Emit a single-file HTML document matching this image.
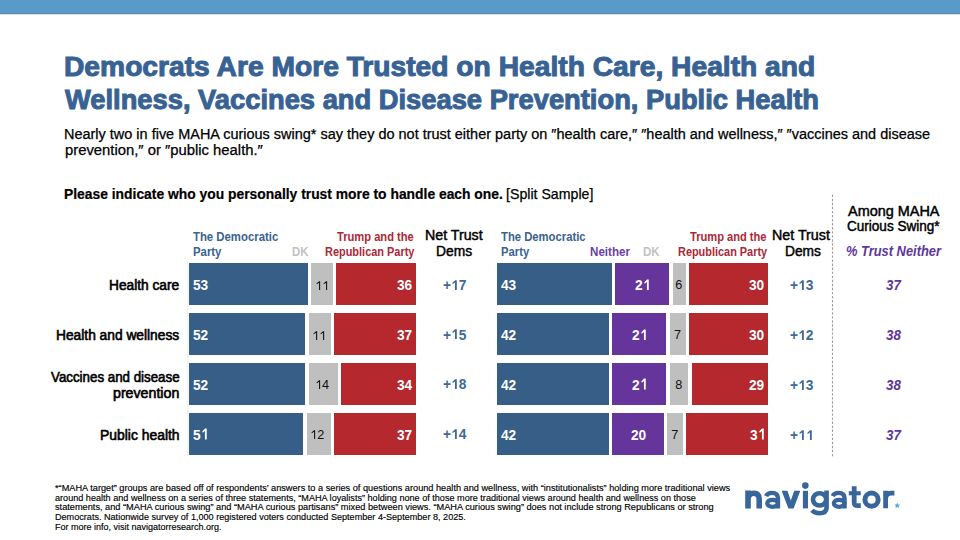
<!DOCTYPE html>
<html><head><meta charset="utf-8"><title>Navigator</title>
<style>
html,body{margin:0;padding:0;background:#fff}
#p{position:relative;width:960px;height:540px;overflow:hidden;background:#fff;font-family:"Liberation Sans",sans-serif}
.t{position:absolute;white-space:nowrap;transform-origin:0 0}
.b{position:absolute}
#top{position:absolute;left:0;top:0;width:960px;height:15px;background:linear-gradient(to bottom,#5a9ac8 0,#5a9ac8 13px,#6088ad 13px,#6088ad 14px,#d5e2ec 14px,#d5e2ec 15px)}
#dash{position:absolute;left:832px;top:194.7px;width:1px;height:263px;background:repeating-linear-gradient(to bottom,#9a9a9a 0,#9a9a9a 2.4px,transparent 2.4px,transparent 4.1px)}
</style></head><body><div id="p">
<div id="top"></div>
<svg style="position:absolute;left:0;top:0" width="960" height="540"><line x1="832.5" y1="194.7" x2="832.5" y2="457.9" stroke="#9c9c9c" stroke-width="1.1" stroke-dasharray="2.4 1.65"/></svg>
<div style="position:absolute;left:187px;top:262px;width:1px;height:194px;background:#eef2f7"></div>
<div class="b" style="left:189.00px;top:263.40px;width:118.61px;height:42.00px;background:#365e87"></div><div class="b" style="left:311.11px;top:263.40px;width:21.84px;height:42.00px;background:#bfbfbf"></div><div class="b" style="left:336.46px;top:263.40px;width:79.44px;height:42.00px;background:#b4282e"></div><div class="b" style="left:189.00px;top:313.30px;width:116.31px;height:42.00px;background:#365e87"></div><div class="b" style="left:308.81px;top:313.30px;width:21.84px;height:42.00px;background:#bfbfbf"></div><div class="b" style="left:334.15px;top:313.30px;width:81.75px;height:42.00px;background:#b4282e"></div><div class="b" style="left:189.00px;top:363.20px;width:116.31px;height:42.00px;background:#365e87"></div><div class="b" style="left:308.81px;top:363.20px;width:28.76px;height:42.00px;background:#bfbfbf"></div><div class="b" style="left:341.06px;top:363.20px;width:74.84px;height:42.00px;background:#b4282e"></div><div class="b" style="left:189.00px;top:413.10px;width:114.00px;height:42.00px;background:#365e87"></div><div class="b" style="left:306.50px;top:413.10px;width:24.15px;height:42.00px;background:#bfbfbf"></div><div class="b" style="left:334.15px;top:413.10px;width:81.75px;height:42.00px;background:#b4282e"></div><div class="b" style="left:497.40px;top:263.40px;width:114.28px;height:42.00px;background:#365e87"></div><div class="b" style="left:615.18px;top:263.40px;width:54.02px;height:42.00px;background:#65359b"></div><div class="b" style="left:672.70px;top:263.40px;width:12.93px;height:42.00px;background:#bfbfbf"></div><div class="b" style="left:689.13px;top:263.40px;width:78.67px;height:42.00px;background:#b4282e"></div><div class="b" style="left:497.40px;top:313.30px;width:111.54px;height:42.00px;background:#365e87"></div><div class="b" style="left:612.44px;top:313.30px;width:54.02px;height:42.00px;background:#65359b"></div><div class="b" style="left:669.96px;top:313.30px;width:15.67px;height:42.00px;background:#bfbfbf"></div><div class="b" style="left:689.13px;top:313.30px;width:78.67px;height:42.00px;background:#b4282e"></div><div class="b" style="left:497.40px;top:363.20px;width:111.54px;height:42.00px;background:#365e87"></div><div class="b" style="left:612.44px;top:363.20px;width:54.02px;height:42.00px;background:#65359b"></div><div class="b" style="left:669.96px;top:363.20px;width:18.41px;height:42.00px;background:#bfbfbf"></div><div class="b" style="left:691.87px;top:363.20px;width:75.93px;height:42.00px;background:#b4282e"></div><div class="b" style="left:497.40px;top:413.10px;width:111.54px;height:42.00px;background:#365e87"></div><div class="b" style="left:612.44px;top:413.10px;width:51.28px;height:42.00px;background:#65359b"></div><div class="b" style="left:667.22px;top:413.10px;width:15.67px;height:42.00px;background:#bfbfbf"></div><div class="b" style="left:686.39px;top:413.10px;width:81.41px;height:42.00px;background:#b4282e"></div>
<div class="t" style="left:64.36px;top:51.30px;font-size:27px;line-height:32.40px;color:#386294;font-weight:700;-webkit-text-stroke:1.0px #386294;transform:scaleX(1.0446);">Democrats Are More Trusted on Health Care, Health and</div>
<div class="t" style="left:65.21px;top:84.40px;font-size:27px;line-height:32.40px;color:#386294;font-weight:700;-webkit-text-stroke:1.0px #386294;transform:scaleX(1.0117);">Wellness, Vaccines and Disease Prevention, Public Health</div>
<div class="t" style="left:63.72px;top:125.70px;font-size:14px;line-height:16.80px;color:#000;-webkit-text-stroke:0.25px #000;transform:scaleX(1.0335);">Nearly two in five MAHA curious swing* say they do not trust either party on ″health care,″ ″health and wellness,″ ″vaccines and disease</div>
<div class="t" style="left:64.75px;top:142.00px;font-size:14px;line-height:16.80px;color:#000;-webkit-text-stroke:0.25px #000;transform:scaleX(1.0588);">prevention,″ or ″public health.″</div>
<div class="t" style="left:64.40px;top:185.75px;font-size:13.9px;line-height:16.68px;color:#000;font-weight:700;-webkit-text-stroke:0.2px #000;transform:scaleX(0.9974);">Please indicate who you personally trust more to handle each one.</div>
<div class="t" style="left:506.23px;top:185.75px;font-size:13.9px;line-height:16.68px;color:#000;-webkit-text-stroke:0.25px #000;transform:scaleX(1.0196);">[Split Sample]</div>
<div class="t" style="left:192.50px;top:229.80px;font-size:11.9px;line-height:14.28px;color:#3a628f;font-weight:700;transform:scaleX(0.9551);">The Democratic</div>
<div class="t" style="left:192.50px;top:244.70px;font-size:11.9px;line-height:14.28px;color:#3a628f;font-weight:700;transform:scaleX(0.9551);">Party</div>
<div class="t" style="left:291.70px;top:244.50px;font-size:11.9px;line-height:14.28px;color:#c2c2c2;font-weight:700;transform:scaleX(0.9588);">DK</div>
<div class="t" style="left:336.90px;top:230.20px;font-size:11.9px;line-height:14.28px;color:#ab2937;font-weight:700;transform:scaleX(0.9378);">Trump and the</div>
<div class="t" style="left:324.50px;top:244.80px;font-size:11.9px;line-height:14.28px;color:#ab2937;font-weight:700;transform:scaleX(0.9206);">Republican Party</div>
<div class="t" style="left:425.19px;top:226.50px;font-size:14px;line-height:16.80px;color:#000;-webkit-text-stroke:0.45px #000;transform:scaleX(1.0143);">Net Trust</div>
<div class="t" style="left:435.61px;top:242.80px;font-size:14px;line-height:16.80px;color:#000;-webkit-text-stroke:0.45px #000;transform:scaleX(0.9861);">Dems</div>
<div class="t" style="left:500.90px;top:230.00px;font-size:11.9px;line-height:14.28px;color:#3a628f;font-weight:700;transform:scaleX(0.9483);">The Democratic</div>
<div class="t" style="left:500.90px;top:244.70px;font-size:11.9px;line-height:14.28px;color:#3a628f;font-weight:700;transform:scaleX(0.9483);">Party</div>
<div class="t" style="left:589.80px;top:244.80px;font-size:11.9px;line-height:14.28px;color:#6a3fa6;font-weight:700;transform:scaleX(0.9756);">Neither</div>
<div class="t" style="left:642.90px;top:244.80px;font-size:11.9px;line-height:14.28px;color:#c2c2c2;font-weight:700;transform:scaleX(0.9706);">DK</div>
<div class="t" style="left:690.40px;top:230.10px;font-size:11.9px;line-height:14.28px;color:#ab2937;font-weight:700;transform:scaleX(0.9341);">Trump and the</div>
<div class="t" style="left:678.00px;top:244.60px;font-size:11.9px;line-height:14.28px;color:#ab2937;font-weight:700;transform:scaleX(0.9175);">Republican Party</div>
<div class="t" style="left:771.68px;top:227.00px;font-size:14px;line-height:16.80px;color:#000;-webkit-text-stroke:0.45px #000;transform:scaleX(1.0196);">Net Trust</div>
<div class="t" style="left:784.92px;top:243.00px;font-size:14px;line-height:16.80px;color:#000;-webkit-text-stroke:0.45px #000;transform:scaleX(0.9833);">Dems</div>
<div class="t" style="left:847.50px;top:202.60px;font-size:14px;line-height:16.80px;color:#000;-webkit-text-stroke:0.45px #000;transform:scaleX(1.0315);">Among MAHA</div>
<div class="t" style="left:847.00px;top:217.90px;font-size:14px;line-height:16.80px;color:#000;-webkit-text-stroke:0.45px #000;transform:scaleX(0.9677);">Curious Swing*</div>
<div class="t" style="left:845.69px;top:243.40px;font-size:14.2px;line-height:17.04px;color:#5f369b;font-weight:700;font-style:italic;transform:scaleX(0.9087);">% Trust Neither</div>
<div class="t" style="left:108.52px;top:276.50px;font-size:14px;line-height:16.80px;color:#000;-webkit-text-stroke:0.6px #000;transform:scaleX(0.9803);">Health care</div>
<div class="t" style="left:56.22px;top:326.50px;font-size:14px;line-height:16.80px;color:#000;-webkit-text-stroke:0.6px #000;transform:scaleX(0.9831);">Health and wellness</div>
<div class="t" style="left:50.80px;top:368.70px;font-size:14px;line-height:16.80px;color:#000;-webkit-text-stroke:0.6px #000;transform:scaleX(0.9511);">Vaccines and disease</div>
<div class="t" style="left:113.30px;top:385.00px;font-size:14px;line-height:16.80px;color:#000;-webkit-text-stroke:0.6px #000;transform:scaleX(1.0138);">prevention</div>
<div class="t" style="left:99.81px;top:427.30px;font-size:14px;line-height:16.80px;color:#000;-webkit-text-stroke:0.6px #000;transform:scaleX(0.9924);">Public health</div>
<div class="t" style="left:54.90px;top:483.00px;font-size:9px;line-height:10.80px;color:#000;-webkit-text-stroke:0.15px #000;transform:scaleX(1.0209);">*“MAHA target” groups are based off of respondents’ answers to a series of questions around health and wellness, with “institutionalists” holding more traditional views</div>
<div class="t" style="left:54.60px;top:492.90px;font-size:9px;line-height:10.80px;color:#000;-webkit-text-stroke:0.15px #000;transform:scaleX(1.0109);">around health and wellness on a series of three statements, “MAHA loyalists” holding none of those more traditional views around health and wellness on those</div>
<div class="t" style="left:54.60px;top:501.90px;font-size:9px;line-height:10.80px;color:#000;-webkit-text-stroke:0.15px #000;transform:scaleX(1.0224);">statements, and “MAHA curious swing” and “MAHA curious partisans” mixed between views. “MAHA curious swing” does not include strong Republicans or strong</div>
<div class="t" style="left:54.90px;top:512.00px;font-size:9px;line-height:10.80px;color:#000;-webkit-text-stroke:0.15px #000;transform:scaleX(1.0101);">Democrats. Nationwide survey of 1,000 registered voters conducted September 4-September 8, 2025.</div>
<div class="t" style="left:54.90px;top:522.00px;font-size:9px;line-height:10.80px;color:#000;-webkit-text-stroke:0.15px #000;">For more info, visit navigatorresearch.org.</div>
<div class="t" style="left:193.00px;top:276.00px;font-size:15.5px;line-height:18.60px;color:#fff;font-weight:700;transform:scaleX(0.8824);">53</div>
<div class="t" style="left:314.73px;top:278.84px;font-size:12.7px;line-height:15.24px;color:#111;"><svg viewBox="0 -800 556 800" style="width:0.556em;height:0.8em;vertical-align:baseline;fill:currentColor"><path d="M405,0H320V-585L145,-462L112,-520L325,-710H405Z"/></svg><svg viewBox="0 -800 556 800" style="width:0.556em;height:0.8em;vertical-align:baseline;fill:currentColor"><path d="M405,0H320V-585L145,-462L112,-520L325,-710H405Z"/></svg></div>
<div class="t" style="left:396.90px;top:276.00px;font-size:15.5px;line-height:18.60px;color:#fff;font-weight:700;transform:scaleX(0.8824);">36</div>
<div class="t" style="left:443.05px;top:277.60px;font-size:13.8px;line-height:16.56px;color:#3e6a97;font-weight:700;transform:scaleX(0.9957);">+<svg viewBox="0 -800 556 800" style="width:0.556em;height:0.8em;vertical-align:baseline;fill:currentColor"><path d="M425,0H292V-540L138,-432L92,-515L300,-710H425Z"/></svg>7</div>
<div class="t" style="left:193.00px;top:325.90px;font-size:15.5px;line-height:18.60px;color:#fff;font-weight:700;transform:scaleX(0.8824);">52</div>
<div class="t" style="left:312.43px;top:328.74px;font-size:12.7px;line-height:15.24px;color:#111;"><svg viewBox="0 -800 556 800" style="width:0.556em;height:0.8em;vertical-align:baseline;fill:currentColor"><path d="M405,0H320V-585L145,-462L112,-520L325,-710H405Z"/></svg><svg viewBox="0 -800 556 800" style="width:0.556em;height:0.8em;vertical-align:baseline;fill:currentColor"><path d="M405,0H320V-585L145,-462L112,-520L325,-710H405Z"/></svg></div>
<div class="t" style="left:396.90px;top:325.90px;font-size:15.5px;line-height:18.60px;color:#fff;font-weight:700;transform:scaleX(0.8824);">37</div>
<div class="t" style="left:443.05px;top:327.50px;font-size:13.8px;line-height:16.56px;color:#3e6a97;font-weight:700;transform:scaleX(0.9957);">+<svg viewBox="0 -800 556 800" style="width:0.556em;height:0.8em;vertical-align:baseline;fill:currentColor"><path d="M425,0H292V-540L138,-432L92,-515L300,-710H425Z"/></svg>5</div>
<div class="t" style="left:193.00px;top:375.80px;font-size:15.5px;line-height:18.60px;color:#fff;font-weight:700;transform:scaleX(0.8824);">52</div>
<div class="t" style="left:314.89px;top:377.80px;font-size:12.7px;line-height:15.24px;color:#111;"><svg viewBox="0 -800 556 800" style="width:0.556em;height:0.8em;vertical-align:baseline;fill:currentColor"><path d="M405,0H320V-585L145,-462L112,-520L325,-710H405Z"/></svg>4</div>
<div class="t" style="left:396.90px;top:375.80px;font-size:15.5px;line-height:18.60px;color:#fff;font-weight:700;transform:scaleX(0.8824);">34</div>
<div class="t" style="left:443.05px;top:377.40px;font-size:13.8px;line-height:16.56px;color:#3e6a97;font-weight:700;transform:scaleX(0.9957);">+<svg viewBox="0 -800 556 800" style="width:0.556em;height:0.8em;vertical-align:baseline;fill:currentColor"><path d="M425,0H292V-540L138,-432L92,-515L300,-710H425Z"/></svg>8</div>
<div class="t" style="left:193.00px;top:425.70px;font-size:15.5px;line-height:18.60px;color:#fff;font-weight:700;transform:scaleX(0.8824);">5<svg viewBox="0 -800 556 800" style="width:0.556em;height:0.8em;vertical-align:baseline;fill:currentColor"><path d="M425,0H292V-540L138,-432L92,-515L300,-710H425Z"/></svg></div>
<div class="t" style="left:310.28px;top:427.70px;font-size:12.7px;line-height:15.24px;color:#111;"><svg viewBox="0 -800 556 800" style="width:0.556em;height:0.8em;vertical-align:baseline;fill:currentColor"><path d="M405,0H320V-585L145,-462L112,-520L325,-710H405Z"/></svg>2</div>
<div class="t" style="left:396.90px;top:425.70px;font-size:15.5px;line-height:18.60px;color:#fff;font-weight:700;transform:scaleX(0.8824);">37</div>
<div class="t" style="left:442.55px;top:427.30px;font-size:13.8px;line-height:16.56px;color:#3e6a97;font-weight:700;transform:scaleX(0.9957);">+<svg viewBox="0 -800 556 800" style="width:0.556em;height:0.8em;vertical-align:baseline;fill:currentColor"><path d="M425,0H292V-540L138,-432L92,-515L300,-710H425Z"/></svg>4</div>
<div class="t" style="left:501.20px;top:276.00px;font-size:15.5px;line-height:18.60px;color:#fff;font-weight:700;transform:scaleX(0.8824);">43</div>
<div class="t" style="left:635.13px;top:276.00px;font-size:15.5px;line-height:18.60px;color:#fff;font-weight:700;transform:scaleX(0.8824);">2<svg viewBox="0 -800 556 800" style="width:0.556em;height:0.8em;vertical-align:baseline;fill:currentColor"><path d="M425,0H292V-540L138,-432L92,-515L300,-710H425Z"/></svg></div>
<div class="t" style="left:675.36px;top:278.00px;font-size:12.7px;line-height:15.24px;color:#111;">6</div>
<div class="t" style="left:748.80px;top:276.00px;font-size:15.5px;line-height:18.60px;color:#fff;font-weight:700;transform:scaleX(0.8824);">30</div>
<div class="t" style="left:789.85px;top:277.90px;font-size:13.8px;line-height:16.56px;color:#3e6a97;font-weight:700;transform:scaleX(0.9957);">+<svg viewBox="0 -800 556 800" style="width:0.556em;height:0.8em;vertical-align:baseline;fill:currentColor"><path d="M425,0H292V-540L138,-432L92,-515L300,-710H425Z"/></svg>3</div>
<div class="t" style="left:885.93px;top:276.90px;font-size:14.8px;line-height:17.76px;color:#5f369b;font-weight:700;font-style:italic;transform:scaleX(0.9029);">37</div>
<div class="t" style="left:501.20px;top:325.90px;font-size:15.5px;line-height:18.60px;color:#fff;font-weight:700;transform:scaleX(0.8824);">42</div>
<div class="t" style="left:632.39px;top:325.90px;font-size:15.5px;line-height:18.60px;color:#fff;font-weight:700;transform:scaleX(0.8824);">2<svg viewBox="0 -800 556 800" style="width:0.556em;height:0.8em;vertical-align:baseline;fill:currentColor"><path d="M425,0H292V-540L138,-432L92,-515L300,-710H425Z"/></svg></div>
<div class="t" style="left:673.99px;top:327.90px;font-size:12.7px;line-height:15.24px;color:#111;">7</div>
<div class="t" style="left:748.80px;top:325.90px;font-size:15.5px;line-height:18.60px;color:#fff;font-weight:700;transform:scaleX(0.8824);">30</div>
<div class="t" style="left:789.85px;top:327.80px;font-size:13.8px;line-height:16.56px;color:#3e6a97;font-weight:700;transform:scaleX(0.9957);">+<svg viewBox="0 -800 556 800" style="width:0.556em;height:0.8em;vertical-align:baseline;fill:currentColor"><path d="M425,0H292V-540L138,-432L92,-515L300,-710H425Z"/></svg>2</div>
<div class="t" style="left:885.93px;top:326.80px;font-size:14.8px;line-height:17.76px;color:#5f369b;font-weight:700;font-style:italic;transform:scaleX(0.9029);">38</div>
<div class="t" style="left:501.20px;top:375.80px;font-size:15.5px;line-height:18.60px;color:#fff;font-weight:700;transform:scaleX(0.8824);">42</div>
<div class="t" style="left:632.39px;top:375.80px;font-size:15.5px;line-height:18.60px;color:#fff;font-weight:700;transform:scaleX(0.8824);">2<svg viewBox="0 -800 556 800" style="width:0.556em;height:0.8em;vertical-align:baseline;fill:currentColor"><path d="M425,0H292V-540L138,-432L92,-515L300,-710H425Z"/></svg></div>
<div class="t" style="left:675.36px;top:377.80px;font-size:12.7px;line-height:15.24px;color:#111;">8</div>
<div class="t" style="left:748.80px;top:375.80px;font-size:15.5px;line-height:18.60px;color:#fff;font-weight:700;transform:scaleX(0.8824);">29</div>
<div class="t" style="left:789.85px;top:377.70px;font-size:13.8px;line-height:16.56px;color:#3e6a97;font-weight:700;transform:scaleX(0.9957);">+<svg viewBox="0 -800 556 800" style="width:0.556em;height:0.8em;vertical-align:baseline;fill:currentColor"><path d="M425,0H292V-540L138,-432L92,-515L300,-710H425Z"/></svg>3</div>
<div class="t" style="left:885.93px;top:376.70px;font-size:14.8px;line-height:17.76px;color:#5f369b;font-weight:700;font-style:italic;transform:scaleX(0.9029);">38</div>
<div class="t" style="left:501.20px;top:425.70px;font-size:15.5px;line-height:18.60px;color:#fff;font-weight:700;transform:scaleX(0.8824);">42</div>
<div class="t" style="left:630.58px;top:425.70px;font-size:15.5px;line-height:18.60px;color:#fff;font-weight:700;transform:scaleX(0.8824);">20</div>
<div class="t" style="left:671.25px;top:427.70px;font-size:12.7px;line-height:15.24px;color:#111;">7</div>
<div class="t" style="left:749.68px;top:425.70px;font-size:15.5px;line-height:18.60px;color:#fff;font-weight:700;transform:scaleX(0.8824);">3<svg viewBox="0 -800 556 800" style="width:0.556em;height:0.8em;vertical-align:baseline;fill:currentColor"><path d="M425,0H292V-540L138,-432L92,-515L300,-710H425Z"/></svg></div>
<div class="t" style="left:790.35px;top:427.60px;font-size:13.8px;line-height:16.56px;color:#3e6a97;font-weight:700;transform:scaleX(0.9957);">+<svg viewBox="0 -800 556 800" style="width:0.556em;height:0.8em;vertical-align:baseline;fill:currentColor"><path d="M425,0H292V-540L138,-432L92,-515L300,-710H425Z"/></svg><svg viewBox="0 -800 556 800" style="width:0.556em;height:0.8em;vertical-align:baseline;fill:currentColor"><path d="M425,0H292V-540L138,-432L92,-515L300,-710H425Z"/></svg></div>
<div class="t" style="left:885.93px;top:426.60px;font-size:14.8px;line-height:17.76px;color:#5f369b;font-weight:700;font-style:italic;transform:scaleX(0.9029);">37</div>
<svg style="position:absolute;left:0;top:0" width="960" height="540" viewBox="0 0 960 540">
<g fill="none" stroke="#38669a" stroke-width="5">
<path stroke-width="5.6" d="M748,490.4V508.5M748,499.5C748,495 750.5,493.2 753.7,493.2C757.1,493.2 759.2,495.1 759.2,499V508.5"/>
<path stroke-width="4.4" d="M766.1,496.2C767.1,493.9 769.3,492.9 772,492.9C775.8,492.9 777.95,494.8 777.95,498.5V508.6"/>
<ellipse stroke-width="4.2" cx="772.5" cy="503.3" rx="5.3" ry="3.5"/>
<ellipse stroke-width="4.6" cx="819.6" cy="499.35" rx="6.6" ry="6.15"/>
<path stroke-width="4.6" d="M826.55,490.4V507.5C826.55,511.5 823.8,513.2 819.4,513.2C816.2,513.2 813.6,512.2 811.9,510.3"/>
<g transform="translate(66.6,0)"><path stroke-width="4.4" d="M766.1,496.2C767.1,493.9 769.3,492.9 772,492.9C775.8,492.9 777.95,494.8 777.95,498.5V508.6"/>
<ellipse stroke-width="4.2" cx="772.5" cy="503.3" rx="5.3" ry="3.5"/></g>
<path stroke-width="4.8" d="M854.2,486.2V502.5C854.2,505 855.5,505.7 858,505.7H860.8"/>
<ellipse cx="871.55" cy="499.65" rx="6.6" ry="6.55"/>
<path stroke-width="4.8" d="M885.6,490.8V508.2M885.6,499C885.6,494.8 888,493.1 891,493.1H894.4"/>
</g>
<g fill="#38669a">
<polygon points="781.6,490.8 787.4,490.8 790.8,500.5 794.2,490.8 800.3,490.8 793.6,508.4 788.4,508.4"/>
<rect x="802.9" y="490.8" width="5.1" height="17.6"/>
<circle cx="805.35" cy="485.6" r="3.3"/>
<rect x="848.8" y="491.2" width="11.9" height="4.1"/>
</g>
<polygon fill="#5ba4da" points="897.20,502.60 897.99,504.61 900.15,504.74 898.48,506.12 899.02,508.21 897.20,507.05 895.38,508.21 895.92,506.12 894.25,504.74 896.41,504.61"/>
</svg>
</div></body></html>
